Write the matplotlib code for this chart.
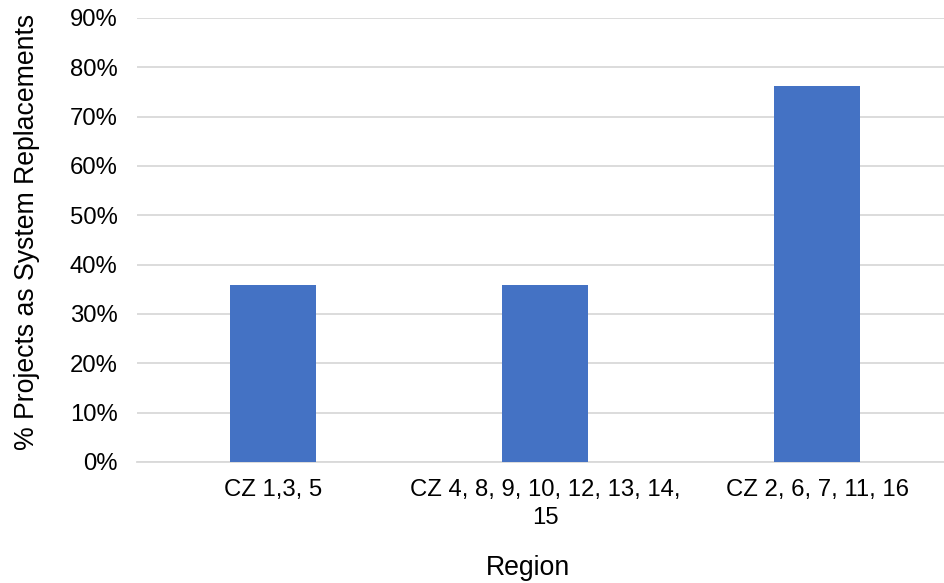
import numpy as np
from matplotlib import pyplot as plt
from matplotlib.ticker import PercentFormatter

plt.rcParams['font.family'] = ['Liberation Sans', 'DejaVu Sans']

regions = ['CZ 1,3, 5', 'CZ 4, 8, 9, 10, 12, 13, 14,\n15', 'CZ 2, 6, 7, 11, 16']
pct_replacements = [0.358, 0.358, 0.762]
y_ticks = [0.0, 0.1, 0.2, 0.3, 0.4, 0.5, 0.6, 0.7, 0.8, 0.9]

W, H = 944, 583
fig = plt.figure(figsize=(W / 100, H / 100), dpi=100)

# plot area runs a little past the right edge, like the source
left, right, bottom, top = 137, 953, 462, 18
ax = fig.add_axes([left / W, 1 - bottom / H, (right - left) / W, (bottom - top) / H])

x = np.arange(len(regions))
ax.bar(x, pct_replacements, width=0.316, color='#4472C4', zorder=3)

ax.set_xlim(-0.5, 2.5)
ax.set_ylim(0, 0.9)
ax.set_yticks(y_ticks)
ax.yaxis.set_major_formatter(PercentFormatter(1.0, decimals=0))
ax.set_xticks(x)
ax.set_xticklabels(regions, multialignment='center', linespacing=1.35)

ax.grid(axis='y', color='#d9d9d9', lw=1.3, zorder=0)
for s in ['left', 'right', 'top']:
    ax.spines[s].set_visible(False)
ax.spines['bottom'].set_color('#d9d9d9')
ax.spines['bottom'].set_linewidth(1.3)
ax.tick_params(axis='both', length=0, labelsize=17.2, colors='black')
ax.tick_params(axis='y', pad=14)
ax.tick_params(axis='x', pad=12)

fig.text(27 / W, 1 - 232 / H, '% Projects as System Replacements',
         rotation=90, ha='center', va='center', fontsize=19.2)
fig.text(528 / W, 1 - 568 / H, 'Region', ha='center', va='center', fontsize=19.2)

fig.savefig('out.png', dpi=100, facecolor='white')
